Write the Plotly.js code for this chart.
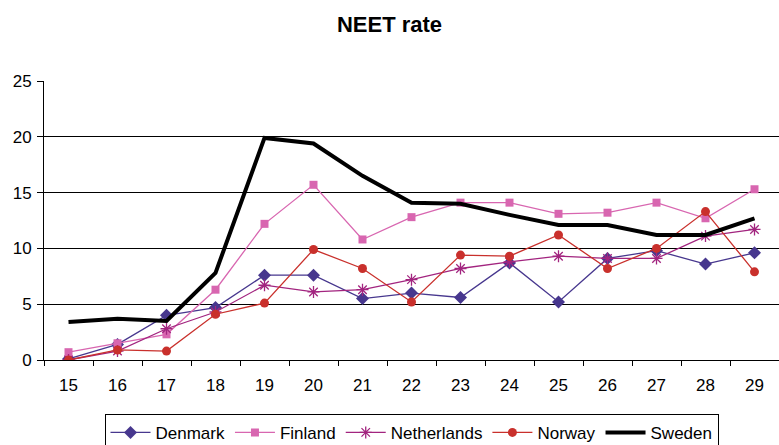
<!DOCTYPE html>
<html><head><meta charset="utf-8">
<script src="https://cdn.plot.ly/plotly-3.0.1.min.js"></script>
<style>html,body{margin:0;padding:0;background:#fff}#c{width:779px;height:445px}</style>
</head><body><div id="c"></div>
<script>
const ages = ["15","16","17","18","19","20","21","22","23","24","25","26","27","28","29"];
const denmark =     [0.1,1.4,4.0,4.7,7.6,7.6,5.5,6.0,5.6,8.7,5.2,9.1,9.8,8.6,9.6];
const finland =     [0.7,1.5,2.3,6.3,12.2,15.7,10.8,12.8,14.1,14.1,13.1,13.2,14.1,12.7,15.3];
const netherlands = [0.0,0.8,2.8,4.3,6.7,6.1,6.3,7.2,8.2,8.8,9.3,9.1,9.1,11.1,11.7];
const norway =      [0.0,0.9,0.8,4.1,5.1,9.9,8.2,5.2,9.4,9.3,11.2,8.2,10.0,13.3,7.9];
const sweden =      [3.4,3.7,3.5,7.8,19.9,19.4,16.5,14.1,14.0,13.0,12.1,12.1,11.2,11.2,12.7];
const yTicks = [0,5,10,15,20,25];

function tr(name, y, color, symbol, size, width, mode){
  return {x: ages, y: y, name: name, type: 'scatter', mode: mode || 'lines+markers',
    line: {color: color, width: width},
    marker: {color: color, symbol: symbol, size: size, line: {color: color, width: symbol === 'asterisk-open' ? 1.3 : 0}}};
}
const data = [
  tr('Denmark', denmark, '#47378E', 'diamond', 10, 1.3),
  tr('Finland', finland, '#D866B0', 'square', 8, 1.3),
  tr('Netherlands', netherlands, '#A2247F', 'asterisk-open', 10, 1.3),
  tr('Norway', norway, '#C9302C', 'circle', 9, 1.3),
  tr('Sweden', sweden, '#000000', 'circle', 0, 4, 'lines')
];
const layout = {
  width: 779, height: 445,
  margin: {l: 44, r: 0, t: 81, b: 85, autoexpand: false},
  paper_bgcolor: '#fff', plot_bgcolor: '#fff',
  font: {family: 'Liberation Sans, Arial, sans-serif', size: 17, color: '#000'},
  title: {text: '<b>NEET rate</b>', font: {size: 22, family: 'Liberation Sans, Arial, sans-serif'}, x: 0.5, xref: 'container', xanchor: 'center', y: 1 - 24/445, yref: 'container', yanchor: 'middle'},
  showlegend: true,
  legend: {orientation: 'h', x: 0.5, xanchor: 'center', y: -0.193, yanchor: 'top', bordercolor: '#000', borderwidth: 1, font: {size: 17}, itemwidth: 40, tracegroupgap: 0},
  xaxis: {type: 'category', range: [-0.5, 14.5], showgrid: false, showline: true, linecolor: '#000', linewidth: 1,
    ticks: 'outside', tickson: 'boundaries', ticklen: 5, tickcolor: '#000', zeroline: false, ticklabelstandoff: 10, fixedrange: true},
  yaxis: {range: [0, 25], tickvals: yTicks, showgrid: true, gridcolor: '#000', gridwidth: 1, showline: true, linecolor: '#000', linewidth: 1,
    ticks: 'outside', ticklen: 6, tickcolor: '#000', zeroline: false, ticklabelstandoff: 2, fixedrange: true}
};
Plotly.newPlot('c', data, layout, {displayModeBar: false, staticPlot: true});
</script></body></html>
